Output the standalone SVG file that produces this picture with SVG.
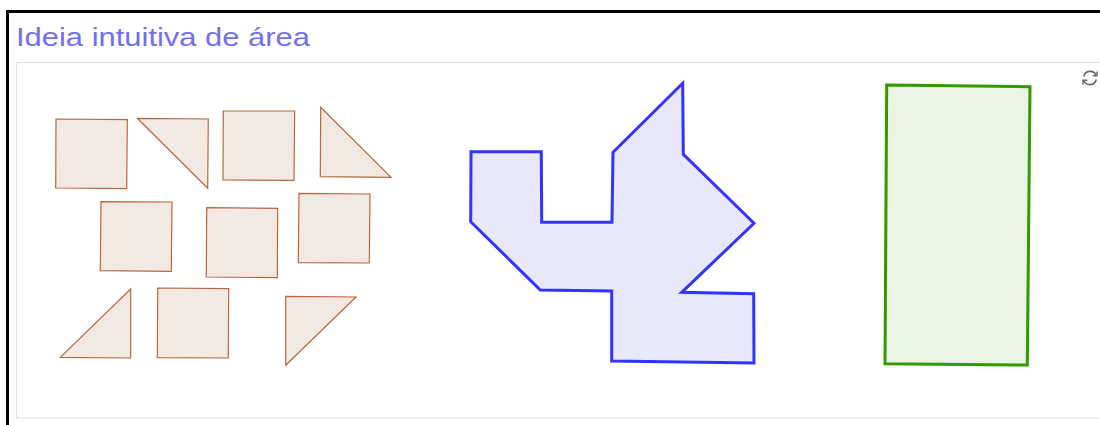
<svg xmlns="http://www.w3.org/2000/svg" width="1100" height="425" viewBox="0 0 1100 425">
<style>
.piece{fill:#f3e9e3;stroke:#b9673f;stroke-width:1.2;stroke-linejoin:miter}
.title{font-family:"Liberation Sans","DejaVu Sans",sans-serif;font-size:26px;fill:#7070f5}
</style>
<rect x="0" y="0" width="1100" height="425" fill="#ffffff"/>
<path d="M7.5,425 V11.5 H1100" fill="none" stroke="#000" stroke-width="3"/>
<text class="title" x="16" y="46" textLength="294" lengthAdjust="spacingAndGlyphs">Ideia intuitiva de área</text>
<rect x="16.5" y="62.5" width="1090" height="355.5" fill="#ffffff" stroke="#e2e2e2" stroke-width="1"/>
<g id="pieces">
<polygon id="sq1" class="piece" points="56,119 127.3,119.7 126.7,188.7 55.7,188"/>
<polygon id="tri1" class="piece" points="137.3,118.3 208.3,119 207.7,188.3"/>
<polygon id="sq2" class="piece" points="223.3,111 294.7,111 294,180.3 223,180"/>
<polygon id="tri2" class="piece" points="320.7,107.3 391,177.3 320.3,176.7"/>
<polygon id="sq3" class="piece" points="101,201.7 172,202 171.3,271.3 100.3,270.7"/>
<polygon id="sq4" class="piece" points="206.7,207.7 277.7,208.3 277.3,277.7 206.3,277"/>
<polygon id="sq5" class="piece" points="299,193.3 370,194 369.3,263 298.3,262.7"/>
<polygon id="tri3" class="piece" points="130.7,289 130.7,358 60.3,357.3"/>
<polygon id="sq6" class="piece" points="157.7,288 228.7,288.7 228.3,358 157.3,357.7"/>
<polygon id="tri4" class="piece" points="285.7,296.3 356,297 285.7,365.3"/>
</g>
<g id="bluefig">
<polygon points="682.7,83.3 683.3,154.3 754,223.3 681.7,292.3 753.7,293.7 754,363 611.7,361 611.7,291 540.3,290 470.7,221.7 471,151.7 541.3,151.7 541.7,222.3 612,222.3 613,152.3" fill="#e8e8fb" stroke="#3333ff" stroke-width="3" stroke-linejoin="miter"/>
</g>
<g id="greenrect">
<polygon points="886.7,85 1030,86.7 1027.3,365 885,363.7" fill="#eaf4e5" stroke="#339900" stroke-width="3"/>
</g>
<g id="refresh" fill="none" stroke="#666" stroke-width="1.6">
<path d="M1096,75 A6.5,6.5 0 0 0 1083.8,76.5"/>
<path d="M1084,81 A6.5,6.5 0 0 0 1096.2,79.5"/>
<path d="M1097,71.5 V75.8 H1092.7" stroke-width="1.4"/>
<path d="M1083,84.5 V80.2 H1087.3" stroke-width="1.4"/>
</g>
</svg>
